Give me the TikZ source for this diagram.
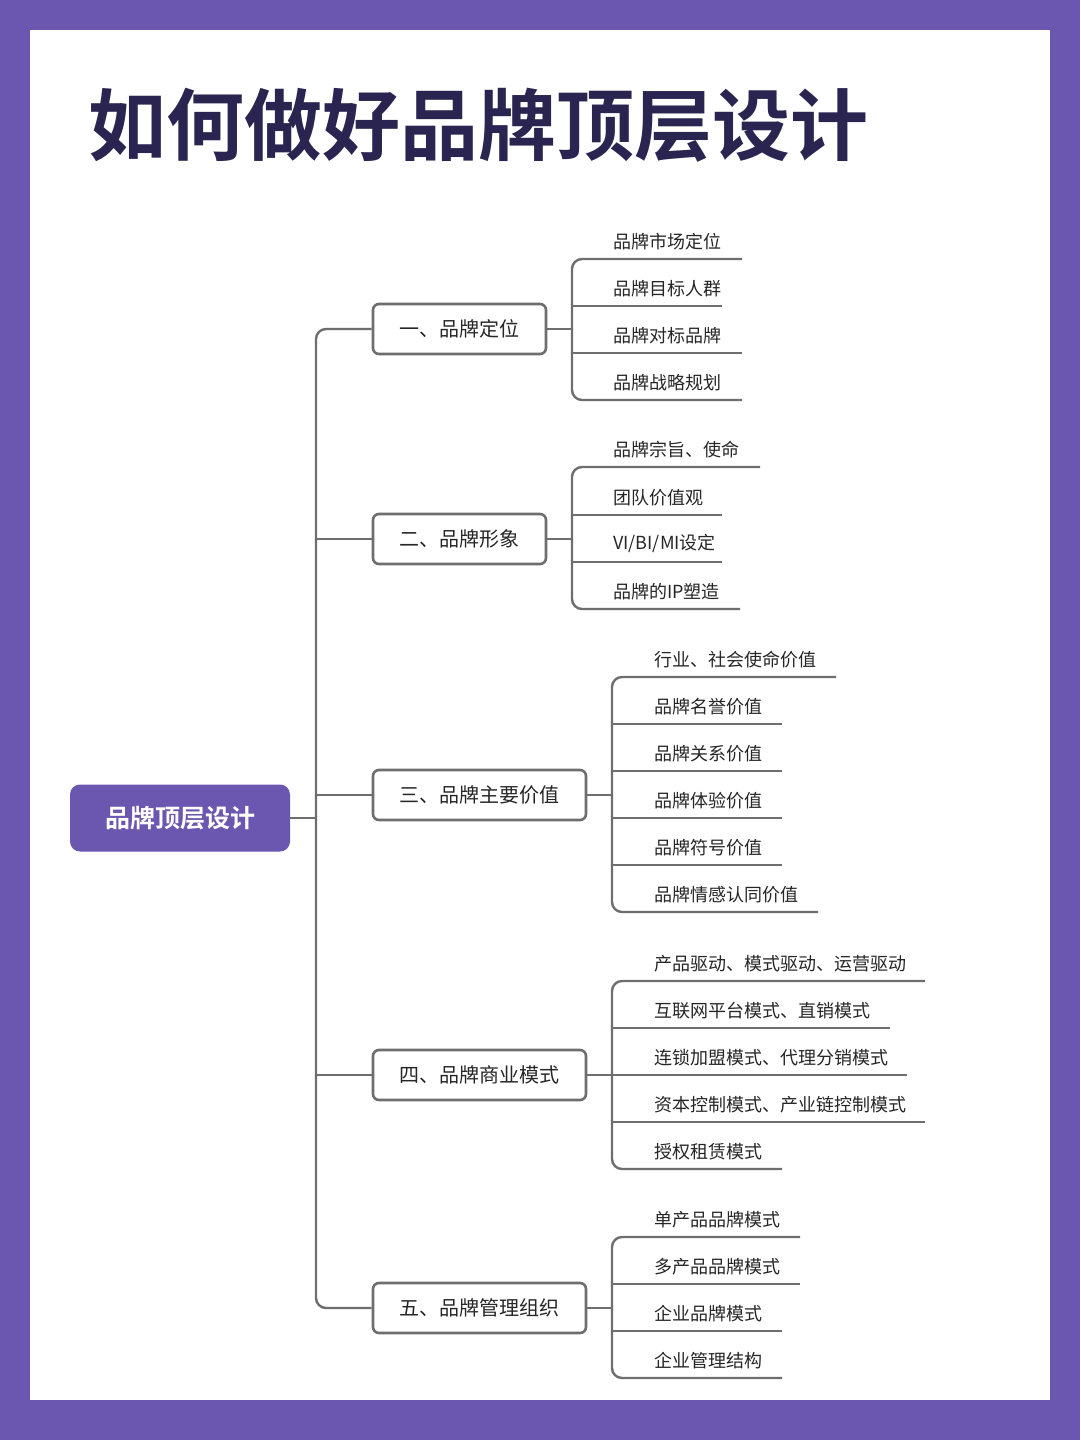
\documentclass[tikz,border=0pt]{standalone}
\usepackage{fontspec}
\newfontfamily\cjk{Noto Sans CJK SC}
\newfontfamily\cjkb{Noto Sans CJK SC Bold}
\definecolor{bgpurple}{HTML}{6B57B0}
\definecolor{navy}{HTML}{2A2550}
\definecolor{ln}{HTML}{6E6E6E}
\tikzset{
 lvl/.style={draw=ln,line width=2.6pt,rounded corners=6pt,fill=white,minimum height=50pt,inner xsep=0pt,font=\cjk\fontsize{20}{24}\selectfont,text=black!85},
 leaf/.style={anchor=south west,inner sep=0pt,font=\cjk\fontsize{18}{22}\selectfont,text=black!85},
 con/.style={draw=ln,line width=2.4pt,rounded corners=10pt}
}
\begin{document}
\begin{tikzpicture}[x=1pt,y=-1pt]
\fill[bgpurple] (0,0) rectangle (1080,1440);
\fill[white] (30,30) rectangle (1050,1400);
\node[anchor=west,inner sep=0pt,text=navy,font=\cjkb\fontsize{78}{90}\selectfont] (title) at (88,125) {如何做好品牌顶层设计};
\node[fill=bgpurple,rounded corners=10pt,minimum width=220pt,minimum height=67pt,text=white,font=\cjkb\fontsize{25}{30}\selectfont] (root) at (180,818) {品牌顶层设计};
\node[lvl,minimum width=173pt] (b1) at (459.5,329) {一、品牌定位};
\node[lvl,minimum width=173pt] (b2) at (459.5,539) {二、品牌形象};
\node[lvl,minimum width=213pt] (b3) at (479.5,795) {三、品牌主要价值};
\node[lvl,minimum width=213pt] (b4) at (479.5,1075) {四、品牌商业模式};
\node[lvl,minimum width=213pt] (b5) at (479.5,1308) {五、品牌管理组织};
\coordinate (t1) at (316,329); \coordinate (t5) at (316,1308);
\draw[con] (b1.west) -- (t1) -- (t5) -- (b5.west);
\foreach \b in {b2,b3,b4} \draw[con] (\b.west) -- (316,0 |- \b.west);
\draw[con] (root.east) -- (316,818);
\newcommand\grp[5]{%
 \foreach \y/\e/\t [count=\i] in {#5} {
   \node[leaf] (#1l\i) at (#3,\y-9) {\t};
   \coordinate (#1e\i) at (\e,\y);
   \coordinate (#1k\i) at (#2,\y);
 }
 \draw[con] (#1.east) -- (#2,0 |- #1.east);
}
\grp{b1}{572}{613}{}{259/742/品牌市场定位,306/722/品牌目标人群,353/742/品牌对标品牌,400/742/品牌战略规划}
\draw[con] (b1e1) -- (b1k1) -- (b1k4) -- (b1e4);
\foreach \i in {2,3} \draw[con] (b1k\i) -- (b1e\i);
\grp{b2}{572}{613}{}{467/760/品牌宗旨、使命,515/722/团队价值观,562/722/{VI/BI/MI设定},609/740/品牌的IP塑造}
\draw[con] (b2e1) -- (b2k1) -- (b2k4) -- (b2e4);
\foreach \i in {2,3} \draw[con] (b2k\i) -- (b2e\i);
\grp{b3}{612}{654}{}{677/836/行业、社会使命价值,724/782/品牌名誉价值,771/782/品牌关系价值,818/782/品牌体验价值,865/782/品牌符号价值,912/818/品牌情感认同价值}
\draw[con] (b3e1) -- (b3k1) -- (b3k6) -- (b3e6);
\foreach \i in {2,...,5} \draw[con] (b3k\i) -- (b3e\i);
\grp{b4}{612}{654}{}{981/925/产品驱动、模式驱动、运营驱动,1028/890/互联网平台模式、直销模式,1075/907/连锁加盟模式、代理分销模式,1122/925/资本控制模式、产业链控制模式,1169/782/授权租赁模式}
\draw[con] (b4e1) -- (b4k1) -- (b4k5) -- (b4e5);
\foreach \i in {2,...,4} \draw[con] (b4k\i) -- (b4e\i);
\grp{b5}{612}{654}{}{1237/800/单产品品牌模式,1284/800/多产品品牌模式,1331/782/企业品牌模式,1378/782/企业管理结构}
\draw[con] (b5e1) -- (b5k1) -- (b5k4) -- (b5e4);
\foreach \i in {2,3} \draw[con] (b5k\i) -- (b5e\i);
\end{tikzpicture}
\end{document}
